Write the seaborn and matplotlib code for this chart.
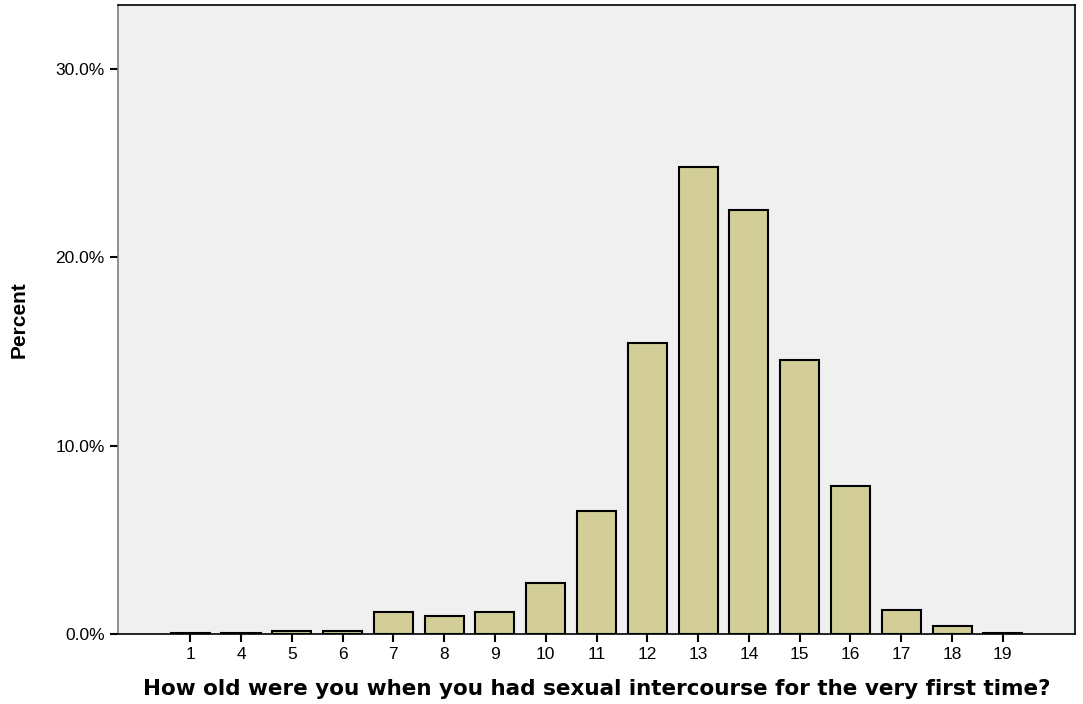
import pandas as pd
import matplotlib.pyplot as plt
import seaborn as sns
from matplotlib.ticker import FuncFormatter

ages = ['1', '4', '5', '6', '7', '8', '9', '10', '11', '12', '13', '14', '15', '16', '17', '18', '19']
percent = [0.08, 0.08, 0.16, 0.16, 1.15, 0.97, 1.15, 2.72, 6.55, 15.45, 24.8, 22.5, 14.55, 7.85, 1.27, 0.44, 0.07]

df = pd.DataFrame({'age': ages, 'percent': percent})

sns.set_style("white")
plt.rcParams['font.family'] = ['Liberation Sans', 'DejaVu Sans']
plt.rcParams['text.color'] = 'black'
plt.rcParams['axes.labelcolor'] = 'black'
plt.rcParams['xtick.color'] = 'black'
plt.rcParams['ytick.color'] = 'black'

fig = plt.figure(figsize=(10.83, 7.04), dpi=100)
ax = fig.add_axes([0.109, 0.0994, 0.8836, 0.8935])
ax.set_facecolor('#F0F0F0')

sns.barplot(data=df, x='age', y='percent', order=ages, color='#D3CE97',
            edgecolor='black', linewidth=1.5, width=0.77, saturation=1, ax=ax)

ax.set_xlim(-1.42, 17.42)
ax.set_ylim(0, 33.4)
ax.set_yticks([0, 10, 20, 30])
ax.yaxis.set_major_formatter(FuncFormatter(lambda v, p: f"{v:.1f}%"))

for s in ax.spines.values():
    s.set_color('black')
    s.set_linewidth(1.2)
ax.spines['left'].set_color('#808080')

ax.tick_params(axis='both', direction='out', length=6, width=1.5, color='black',
               labelsize=12.5, bottom=True, left=True)

ax.set_xlabel('How old were you when you had sexual intercourse for the very first time?',
              fontsize=15.5, fontweight='bold', family=['DejaVu Sans'], labelpad=12)
ax.set_ylabel('Percent', fontsize=15, fontweight='bold', labelpad=19)

fig.savefig('out.png', dpi=100)
